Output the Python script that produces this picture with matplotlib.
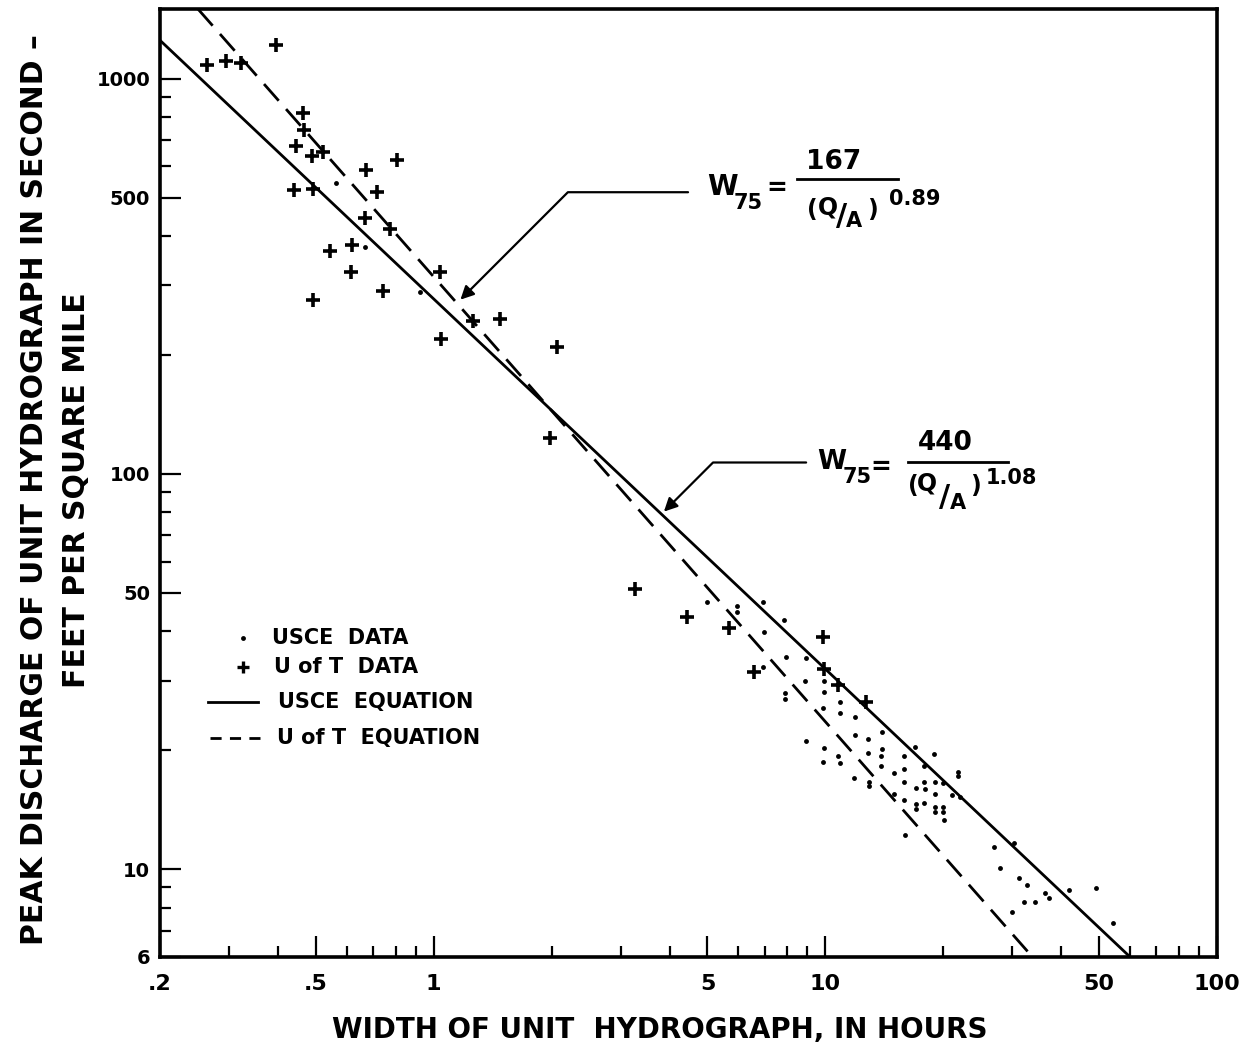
import matplotlib.pyplot as plt
from matplotlib.lines import Line2D
from matplotlib.ticker import FixedLocator, FixedFormatter, NullFormatter

W_PX, H_PX = 1251, 1057

# U of T data: width of unit hydrograph (hours) vs peak discharge (cfs / sq mi)
uoft_width = [0.396, 0.264, 0.295, 0.322, 0.464, 0.467, 0.446, 0.490, 0.522,
              0.673, 0.807, 0.718, 0.440, 0.492, 0.669, 0.775, 0.544, 0.619,
              0.615, 0.744, 0.492, 1.04, 1.256, 1.48, 1.046, 2.07, 1.977,
              3.26, 4.43, 5.67, 6.57, 9.87, 9.93, 10.8, 12.7]
uoft_peak = [1216, 1081, 1107, 1094, 817, 740, 674, 636, 651,
             586, 621, 516, 522, 525, 443, 416, 366, 379,
             324, 291, 276, 325, 244, 247, 219, 209, 123.6,
             51.3, 43.5, 40.8, 31.6, 38.8, 32.2, 29.3, 26.5]

# USCE data
usce_width = [0.564, 0.669, 0.925, 4.98, 5.94, 5.94, 6.93, 7.84, 6.97, 7.93,
              8.93, 6.93, 8.87, 9.92, 7.89, 7.89, 9.87, 10.9, 10.9, 11.9,
              11.9, 13.96, 8.93, 9.92, 10.8, 12.86, 12.86, 13.96, 13.9, 13.9,
              10.9, 9.87, 11.8, 12.9, 12.9, 15.0, 15.9, 15.9, 16.9, 18.9,
              17.9, 21.8, 21.8, 15.9, 17.0, 17.9, 19.0, 20.0, 18.0, 19.0,
              21.0, 22.1, 15.0, 15.9, 17.0, 17.0, 17.9, 19.0, 19.0, 20.0,
              20.0, 20.1, 16.0, 27.0, 28.0, 31.3, 32.8, 36.3, 37.3, 32.2,
              34.2, 30.0, 42.0, 49.2, 54.4, 30.4, 9.92]
usce_peak = [543, 374, 288, 47.3, 46.4, 44.8, 47.3, 42.8, 39.9, 34.5,
             34.3, 32.5, 30.0, 30.0, 28.0, 26.9, 25.6, 26.5, 24.9, 24.3,
             21.9, 22.3, 21.1, 20.3, 19.3, 21.3, 19.7, 20.1, 19.3, 18.3,
             18.6, 18.7, 17.0, 16.65, 16.2, 17.5, 19.3, 17.9, 20.4, 19.6,
             18.2, 17.6, 17.2, 16.65, 16.1, 16.65, 16.65, 16.5, 16.0, 15.5,
             15.4, 15.2, 15.5, 15.0, 14.6, 14.2, 14.7, 14.4, 14.0, 14.4,
             14.0, 13.3, 12.2, 11.4, 10.1, 9.5, 9.13, 8.72, 8.46, 8.27,
             8.25, 7.8, 8.87, 8.97, 7.31, 11.67, 28.1]

# equation lines, end points
usce_eq_width = [0.2, 60]
usce_eq_peak = [1250, 6]
uoft_eq_width = [0.25, 33.8]
uoft_eq_peak = [1500, 6]

x_major = [0.2, 0.5, 1, 5, 10, 50, 100]
x_labels = [".2", ".5", "1", "5", "10", "50", "100"]
x_minor = [0.3, 0.4, 0.6, 0.7, 0.8, 0.9, 2, 3, 4, 6, 7, 8, 9,
           20, 30, 40, 60, 70, 80, 90]
y_major = [6, 10, 50, 100, 500, 1000]
y_labels = ["6", "10", "50", "100", "500", "1000"]
y_minor = [7, 8, 9, 20, 30, 40, 60, 70, 80, 90, 200, 300, 400,
           600, 700, 800, 900]


def fx(px):
    return px / W_PX


def fy(py):
    return 1 - py / H_PX


plt.rcParams["font.family"] = ["DejaVu Sans"]
plt.rcParams["font.weight"] = "bold"

fig = plt.figure(figsize=(12.51, 10.57), dpi=100)
ax = fig.add_axes([fx(160), fy(957), (1217 - 160) / W_PX, (957 - 9) / H_PX])

ax.plot(usce_width, usce_peak, "o", color="black", ms=3.5, mew=0)
ax.plot(uoft_width, uoft_peak, "+", color="black", ms=10.5, mew=2.6)
ax.plot(usce_eq_width, usce_eq_peak, "-", color="black", lw=2)
ax.plot(uoft_eq_width, uoft_eq_peak, color="black", lw=2, ls=(0, (8, 4)))

ax.set_xscale("log")
ax.set_yscale("log")
ax.set_xlim(0.2, 100)
ax.set_ylim(6, 1500)

ax.xaxis.set_major_locator(FixedLocator(x_major))
ax.xaxis.set_major_formatter(FixedFormatter(x_labels))
ax.xaxis.set_minor_locator(FixedLocator(x_minor))
ax.xaxis.set_minor_formatter(NullFormatter())
ax.yaxis.set_major_locator(FixedLocator(y_major))
ax.yaxis.set_major_formatter(FixedFormatter(y_labels))
ax.yaxis.set_minor_locator(FixedLocator(y_minor))
ax.yaxis.set_minor_formatter(NullFormatter())

ax.tick_params(which="both", direction="in", top=False, right=False,
               color="black", width=1.6)
ax.tick_params(which="major", length=15)
ax.tick_params(which="minor", length=8)
ax.tick_params(axis="x", which="major", labelsize=16, pad=12)
ax.tick_params(axis="y", which="major", labelsize=14, pad=7)
for side in ["left", "right", "top", "bottom"]:
    ax.spines[side].set_linewidth(2.6)

# axis labels
fig.text(fx(660), fy(1030), "WIDTH OF UNIT  HYDROGRAPH, IN HOURS",
         ha="center", va="center", fontsize=20)
fig.text(fx(35), fy(490), "PEAK DISCHARGE OF UNIT HYDROGRAPH IN SECOND –",
         ha="center", va="center", rotation=90, fontsize=21.5)
fig.text(fx(77), fy(490), "FEET PER SQUARE MILE",
         ha="center", va="center", rotation=90, fontsize=21.5)

# leader arrows to the equation lines
arrow = dict(arrowstyle="-|>", color="black", lw=1.6, mutation_scale=20,
             shrinkA=0, shrinkB=0,
             connectionstyle="angle,angleA=0,angleB=45,rad=0")
ax.annotate("", xy=(1.17, 276), xytext=(4.46, 516), arrowprops=arrow)
ax.annotate("", xy=(3.87, 80.3), xytext=(8.93, 106.9), arrowprops=arrow)

# equation labels, built from pieces
eq_pieces = [
    ("W", 722, 187, 20), ("75", 748, 203, 15), ("=", 777, 188, 18),
    ("167", 834, 162, 19), ("(", 812, 210, 17), ("Q", 828, 207, 17),
    ("/", 842, 216, 22), ("A", 854, 221, 15), (")", 872, 210, 17),
    ("0.89", 915, 199, 15),
    ("W", 832, 462, 19), ("75", 857, 477, 15), ("=", 881, 467, 18),
    ("440", 945, 443, 19), ("(", 913, 486, 17), ("Q", 927, 483, 17),
    ("/", 945, 498, 22), ("A", 958, 503, 15), (")", 975, 486, 17),
    ("1.08", 1011, 478, 15),
]
for s, px, py, size in eq_pieces:
    fig.text(fx(px), fy(py), s, ha="center", va="center", fontsize=size)
for x0, x1, yb in [(797, 898, 179), (908, 1008, 462)]:
    fig.add_artist(Line2D([fx(x0), fx(x1)], [fy(yb), fy(yb)],
                          transform=fig.transFigure, color="black", lw=2))

# legend drawn by hand
fig.add_artist(Line2D([fx(243)], [fy(638)], transform=fig.transFigure,
                      marker="o", ms=3.5, mew=0, color="black", ls="none"))
fig.add_artist(Line2D([fx(243)], [fy(667)], transform=fig.transFigure,
                      marker="+", ms=9, mew=2.4, color="black", ls="none"))
fig.add_artist(Line2D([fx(208), fx(258)], [fy(702), fy(702)],
                      transform=fig.transFigure, color="black", lw=2))
fig.add_artist(Line2D([fx(210), fx(268)], [fy(738), fy(738)],
                      transform=fig.transFigure, color="black", lw=2,
                      ls=(0, (4, 3))))
legend_rows = [("USCE  DATA", 272, 638), ("U of T  DATA", 274, 667),
               ("USCE  EQUATION", 278, 702), ("U of T  EQUATION", 277, 738)]
for s, px, py in legend_rows:
    fig.text(fx(px), fy(py), s, ha="left", va="center", fontsize=15)

fig.savefig("out.png", dpi=100, facecolor="white")
